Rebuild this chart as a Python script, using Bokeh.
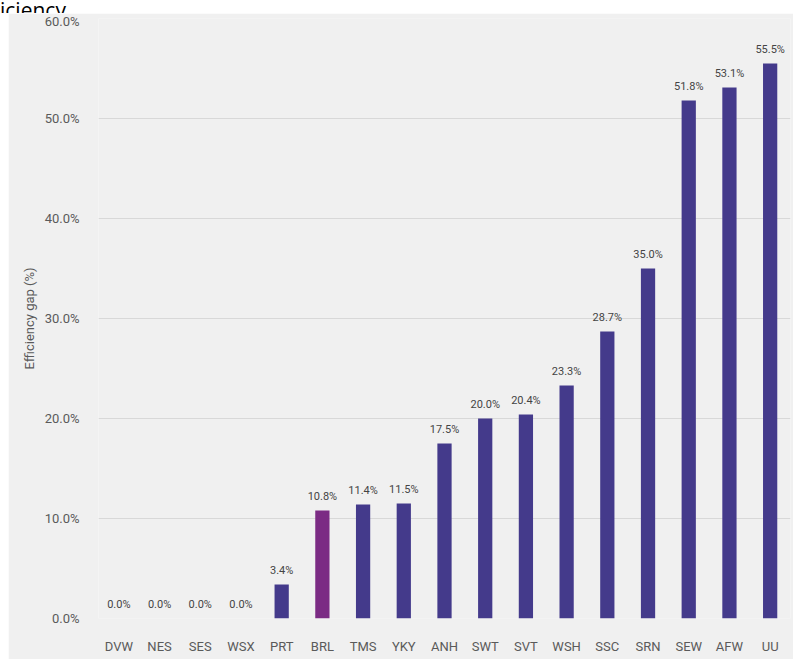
import math
from bokeh.plotting import figure
from bokeh.models import (ColumnDataSource, FactorRange, Range1d, FixedTicker,
                          PrintfTickFormatter, Div, LabelSet)
from bokeh.core.properties import value
from bokeh.layouts import column
from bokeh.embed import file_html
from bokeh.resources import INLINE

categories = ["DVW", "NES", "SES", "WSX", "PRT", "BRL", "TMS", "YKY", "ANH",
              "SWT", "SVT", "WSH", "SSC", "SRN", "SEW", "AFW", "UU"]
values = [0.0, 0.0, 0.0, 0.0, 3.4, 10.8, 11.4, 11.5, 17.5,
          20.0, 20.4, 23.3, 28.7, 35.0, 51.8, 53.1, 55.5]
highlight = "BRL"
y_ticks = [0, 10, 20, 30, 40, 50, 60]

BAR = "#443a8b"
HIGH = "#7b2b84"
BG = "#f0f0f0"
TXT = "#5a5a5a"
FONT = "Roboto"

colors = [HIGH if c == highlight else BAR for c in categories]
labels = ["%.1f%%" % v for v in values]
src = ColumnDataSource(dict(cat=categories, val=values, color=colors, lab=labels))

p = figure(x_range=FactorRange(*categories), y_range=Range1d(0, 60),
           width=785, height=646, output_backend="svg", toolbar_location=None,
           min_border_left=90, min_border_right=3, min_border_top=5,
           min_border_bottom=41)
p.margin = (0, 0, 0, 8)
p.background_fill_color = BG
p.border_fill_color = BG
p.outline_line_color = None

p.vbar(x="cat", top="val", width=0.35, fill_color="color", line_color=None,
       source=src)

lbl = LabelSet(x="cat", y="val", text="lab", source=src, text_align="center",
               text_baseline="bottom", y_offset=8, text_font_size="11px",
               text_color="#444444", text_font=value(FONT))
p.add_layout(lbl)

p.yaxis.ticker = FixedTicker(ticks=y_ticks)
p.yaxis.formatter = PrintfTickFormatter(format="%.1f%%")
for ax in (p.xaxis[0], p.yaxis[0]):
    ax.axis_line_color = None
    ax.major_tick_line_color = None
    ax.minor_tick_line_color = None
    ax.major_label_text_color = TXT
    ax.major_label_text_font = FONT
    ax.major_label_text_font_size = "13px"
p.yaxis.major_label_standoff = 13
p.xaxis.major_label_standoff = 14
p.yaxis.axis_label = "Efficiency gap (%)"
p.yaxis.axis_label_text_font = FONT
p.yaxis.axis_label_text_font_size = "13px"
p.yaxis.axis_label_text_font_style = "normal"
p.yaxis.axis_label_text_color = TXT
p.yaxis.axis_label_standoff = 5
p.xgrid.grid_line_color = None
p.ygrid.grid_line_color = "#d8d8d8"
p.ygrid.grid_line_width = 1

title = Div(text='<div style="margin-top:-19px;">iciency</div>',
            width=793, height=13, margin=(0, 0, 0, 0),
            styles={"font-family": "Open Sans", "font-size": "21px",
                    "line-height": "21px", "color": "#000000",
                    "overflow": "hidden", "white-space": "nowrap",
                    "height": "13px"})

layout = column(title, p, spacing=0)
open("out.html", "w").write(file_html(layout, INLINE))
